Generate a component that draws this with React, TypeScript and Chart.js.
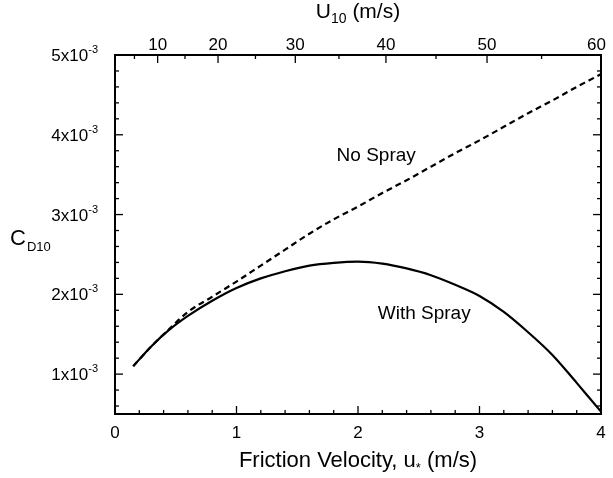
import React, { useEffect, useRef } from "react";
import { Chart, registerables } from "chart.js";

Chart.register(...registerables);

// Friction velocity u* (m/s)
const uStar = [0.15, 0.3, 0.45, 0.6, 0.8, 1.0, 1.2, 1.4, 1.6, 1.8, 2.0, 2.2, 2.4, 2.6, 2.8, 3.0, 3.2, 3.4, 3.6, 3.8, 3.9, 4.0];
// Drag coefficient C_D10 in units of 10^-3
const cdNoSpray = [1.10, 1.35, 1.57, 1.78, 1.97, 2.16, 2.36, 2.56, 2.76, 2.94, 3.10, 3.27, 3.43, 3.60, 3.77, 3.93, 4.10, 4.27, 4.43, 4.60, 4.68, 4.76];
const cdWithSpray = [1.10, 1.35, 1.56, 1.73, 1.92, 2.08, 2.20, 2.29, 2.36, 2.395, 2.41, 2.385, 2.325, 2.24, 2.12, 1.98, 1.78, 1.525, 1.24, 0.89, 0.71, 0.53];

// Bottom axis
const xMin = 0;
const xMax = 4;
const xMajorTicks = [0, 1, 2, 3, 4];
const xMinorStep = 0.2;
// Left axis (x10^-3)
const yMin = 0.5;
const yMax = 5;
const yMajorTicks = [1, 2, 3, 4, 5];
const yMinorStep = 0.2;
// Top axis: U10 (m/s) and the u* where each tick sits
const u10Values = [5, 10, 15, 20, 25, 30, 35, 40, 45, 50, 55, 60];
const u10AtUStar = [0.16, 0.351, 0.576, 0.848, 1.156, 1.484, 1.843, 2.23, 2.642, 3.062, 3.511, 4.0];

const noSprayLabel = { text: "No Spray", x: 2.15, y: 3.67 };
const withSprayLabel = { text: "With Spray", x: 2.545, y: 1.69 };

const FONT = '"Liberation Sans", Arial, Helvetica, sans-serif';

const axesPlugin = {
  id: "customAxes",
  afterDatasetsDraw(chart: any) {
    const { ctx, chartArea: a, scales } = chart;
    const xs = scales.x;
    const ys = scales.y;
    ctx.save();
    ctx.strokeStyle = "#000";
    ctx.fillStyle = "#000";

    // frame
    ctx.lineWidth = 2;
    ctx.strokeRect(a.left, a.top, a.right - a.left, a.bottom - a.top);

    ctx.lineWidth = 1.3;
    const MAJ = 8;
    const MIN = 4;
    const line = (x1: number, y1: number, x2: number, y2: number) => {
      ctx.beginPath();
      ctx.moveTo(x1, y1);
      ctx.lineTo(x2, y2);
      ctx.stroke();
    };

    // bottom ticks
    const x0i = Math.ceil(xMin / xMinorStep - 1e-9);
    const x1i = Math.floor(xMax / xMinorStep + 1e-9);
    for (let i = x0i; i <= x1i; i++) {
      const v = i * xMinorStep;
      const isMajor = xMajorTicks.some((t) => Math.abs(t - v) < 1e-6);
      const px = xs.getPixelForValue(v);
      line(px, a.bottom, px, a.bottom - (isMajor ? MAJ : MIN));
    }
    // left & right ticks
    const y0i = Math.ceil(yMin / yMinorStep - 1e-9);
    const y1i = Math.floor(yMax / yMinorStep + 1e-9);
    for (let i = y0i; i <= y1i; i++) {
      const v = i * yMinorStep;
      const isMajor = yMajorTicks.some((t) => Math.abs(t - v) < 1e-6);
      const py = ys.getPixelForValue(v);
      const len = isMajor ? MAJ : MIN;
      line(a.left, py, a.left + len, py);
      line(a.right, py, a.right - len, py);
    }
    // top ticks (U10)
    u10Values.forEach((u, i) => {
      const px = xs.getPixelForValue(u10AtUStar[i]);
      const isMajor = u % 10 === 0;
      line(px, a.top, px, a.top + (isMajor ? MAJ : MIN));
    });

    // tick labels
    ctx.font = `17px ${FONT}`;
    ctx.textAlign = "center";
    ctx.textBaseline = "alphabetic";
    xMajorTicks.forEach((t) => {
      ctx.fillText(String(t), xs.getPixelForValue(t), a.bottom + 24);
    });
    ctx.textAlign = "left";
    u10Values.forEach((u, i) => {
      if (u % 10 !== 0) return;
      const px = xs.getPixelForValue(u10AtUStar[i]);
      const w = ctx.measureText(String(u)).width;
      const left = u === 60 ? px - w + 5 : px - w / 2;
      ctx.fillText(String(u), left, a.top - 5);
    });

    // y tick labels with superscript
    yMajorTicks.forEach((t) => {
      const py = ys.getPixelForValue(t);
      const base = `${t}x10`;
      const sup = "-3";
      ctx.font = `17px ${FONT}`;
      const wb = ctx.measureText(base).width;
      ctx.font = `11px ${FONT}`;
      const ws = ctx.measureText(sup).width;
      const right = a.left - 17;
      const start = right - ws - wb;
      ctx.font = `17px ${FONT}`;
      ctx.fillText(base, start, py + 6);
      ctx.font = `11px ${FONT}`;
      ctx.fillText(sup, start + wb, py - 2);
    });

    // bottom title: Friction Velocity, u* (m/s)
    {
      const p1 = "Friction Velocity, u";
      const p2 = "*";
      const p3 = " (m/s)";
      ctx.font = `22px ${FONT}`;
      const w1 = ctx.measureText(p1).width;
      const w3 = ctx.measureText(p3).width;
      ctx.font = `13px ${FONT}`;
      const w2 = ctx.measureText(p2).width;
      const cx = (a.left + a.right) / 2;
      let x0 = cx - (w1 + w2 + w3) / 2;
      const by = a.bottom + 53;
      ctx.font = `22px ${FONT}`;
      ctx.fillText(p1, x0, by);
      x0 += w1;
      ctx.font = `13px ${FONT}`;
      ctx.fillText(p2, x0, by + 5);
      x0 += w2;
      ctx.font = `22px ${FONT}`;
      ctx.fillText(p3, x0, by);
    }

    // top title: U10 (m/s)
    {
      const p1 = "U";
      const p2 = "10";
      const p3 = " (m/s)";
      ctx.font = `21px ${FONT}`;
      const w1 = ctx.measureText(p1).width;
      const w3 = ctx.measureText(p3).width;
      ctx.font = `14px ${FONT}`;
      const w2 = ctx.measureText(p2).width;
      const cx = (a.left + a.right) / 2;
      let x0 = cx - (w1 + w2 + w3) / 2;
      const by = a.top - 37;
      ctx.font = `21px ${FONT}`;
      ctx.fillText(p1, x0, by);
      x0 += w1;
      ctx.font = `14px ${FONT}`;
      ctx.fillText(p2, x0, by + 5);
      x0 += w2;
      ctx.font = `21px ${FONT}`;
      ctx.fillText(p3, x0, by);
    }

    // left title: C_D10
    {
      const ty = (a.top + a.bottom) / 2 + 10;
      ctx.font = `22px ${FONT}`;
      ctx.fillText("C", 10, ty);
      const wc = ctx.measureText("C").width;
      ctx.font = `13px ${FONT}`;
      ctx.fillText("D10", 10 + wc + 1, ty + 6);
    }

    // curve annotations
    ctx.font = `19px ${FONT}`;
    ctx.textAlign = "center";
    [noSprayLabel, withSprayLabel].forEach((l) => {
      ctx.fillText(l.text, xs.getPixelForValue(l.x), ys.getPixelForValue(l.y));
    });

    ctx.restore();
  },
};

export default function App() {
  const canvasRef = useRef<HTMLCanvasElement | null>(null);

  useEffect(() => {
    if (!canvasRef.current) return;
    const chart = new Chart(canvasRef.current, {
      type: "line",
      data: {
        datasets: [
          {
            label: "No Spray",
            data: uStar.map((u, i) => ({ x: u, y: cdNoSpray[i] })),
            borderColor: "#000",
            borderWidth: 2.2,
            borderDash: [6, 4],
            pointRadius: 0,
            cubicInterpolationMode: "monotone",
            fill: false,
          },
          {
            label: "With Spray",
            data: uStar.map((u, i) => ({ x: u, y: cdWithSpray[i] })),
            borderColor: "#000",
            borderWidth: 2.2,
            pointRadius: 0,
            cubicInterpolationMode: "monotone",
            fill: false,
          },
        ],
      },
      options: {
        animation: false,
        responsive: true,
        maintainAspectRatio: false,
        layout: { padding: { left: 115, top: 55, right: 12, bottom: 64 } },
        plugins: {
          legend: { display: false },
          tooltip: { enabled: false },
          title: { display: false },
        },
        events: [],
        scales: {
          x: { type: "linear", min: xMin, max: xMax, display: false },
          y: { type: "linear", min: yMin, max: yMax, display: false },
        },
      },
      plugins: [axesPlugin],
    });
    return () => chart.destroy();
  }, []);

  return (
    <div style={{ position: "fixed", left: 0, top: 0, width: 613, height: 478, background: "#fff" }}>
      <canvas ref={canvasRef} />
    </div>
  );
}
